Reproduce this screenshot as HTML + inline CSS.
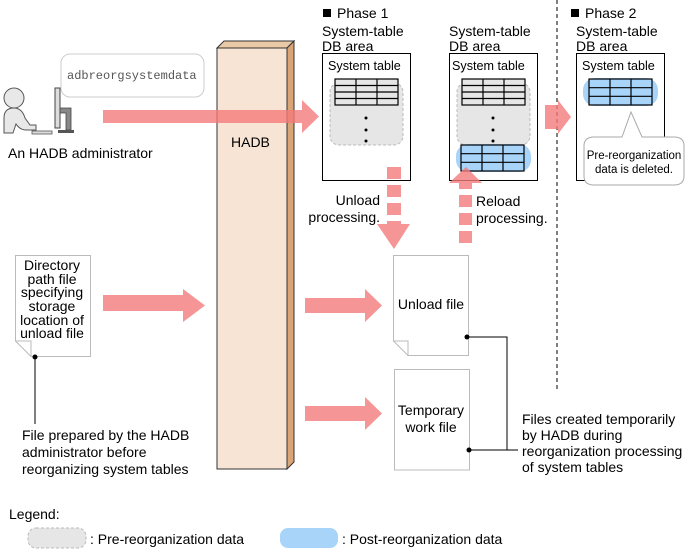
<!DOCTYPE html>
<html><head><meta charset="utf-8"><style>
html,body{margin:0;padding:0;background:#fff}
svg{display:block}
text{font-family:"Liberation Sans",sans-serif;font-size:14px;fill:#000}
</style></head><body>
<svg width="687" height="556" viewBox="0 0 687 556" xmlns="http://www.w3.org/2000/svg">
<defs>
<g id="g4">
<rect x="0" y="0" width="63" height="26" fill="#e6e6e6" stroke="#000" stroke-width="1.2"/>
<path d="M0 6.5H63M0 13H63M0 19.5H63M21 0V26M42 0V26" stroke="#000" stroke-width="1.2"/>
</g>
<g id="b3">
<rect x="0" y="0" width="63" height="26" fill="#a8d4fa" stroke="#000" stroke-width="1.2"/>
<path d="M0 8.7H63M0 17.3H63M21 0V26M42 0V26" stroke="#000" stroke-width="1.2"/>
</g>
</defs>

<circle cx="14" cy="98" r="10" fill="#e8e8e8" stroke="#555"/>
<path d="M4 133 V118 Q4 108 14 108 Q22 108 25 118 L30 125 H36 V130 H26 Q20 130 16 124 L13 133Z" fill="#e8e8e8" stroke="#555"/>
<rect x="32" y="131" width="20" height="3" fill="#ddd" stroke="#555" stroke-width="0.8"/>
<rect x="55" y="88" width="5" height="40" fill="#ddd" stroke="#444"/>
<path d="M60 108 H71 V130 H66 V113 H60Z" fill="#888" stroke="#444" stroke-width="0.8"/>
<rect x="58" y="130" width="16" height="3" fill="#555"/>

<rect x="61" y="54" width="143" height="43" rx="9" fill="#fff" stroke="#ccc"/>
<text x="67" y="79" style="font-family:'Liberation Mono',monospace;font-size:12px;fill:#555">adbreorgsystemdata</text>
<text x="8" y="158">An HADB administrator</text>

<path d="M217 48 L224 41 H294 L287 48Z" fill="#eac9a6" stroke="#333"/>
<path d="M287 48 L294 41 V462 L287 469Z" fill="#d9a577" stroke="#333"/>
<rect x="217" y="48" width="70" height="421" fill="#f7e4d4" stroke="#333"/>
<text x="231" y="147" style="font-size:14px">HADB</text>

<rect x="323" y="9" width="8" height="8" fill="#000"/>
<text x="337" y="18" style="font-size:14px">Phase 1</text>
<g style="font-size:12.3px">
<text x="322" y="36">System-table</text><text x="322" y="51">DB area</text>
<text x="449" y="36">System-table</text><text x="449" y="51">DB area</text>
<text x="576" y="36">System-table</text><text x="576" y="51">DB area</text>
</g>
<rect x="571" y="9" width="8" height="8" fill="#000"/>
<text x="585" y="18" style="font-size:14px">Phase 2</text>
<line x1="557" y1="0" x2="557" y2="392" stroke="#000" stroke-dasharray="4,3"/>

<rect x="322.5" y="53.5" width="88" height="127" fill="#fff" stroke="#000"/>
<text x="328" y="70" style="font-size:12.6px">System table</text>
<rect x="330" y="83" width="73" height="62" rx="9" fill="#e6e6e6" stroke="#bbb" stroke-dasharray="3,2"/>
<use href="#g4" x="335" y="79"/>
<circle cx="366" cy="118" r="1.5"/><circle cx="366" cy="130" r="1.5"/><circle cx="366" cy="141" r="1.5"/>

<rect x="449.5" y="53.5" width="88" height="127" fill="#fff" stroke="#000"/>
<text x="452" y="70" style="font-size:12.6px">System table</text>
<rect x="457" y="83" width="73" height="62" rx="9" fill="#e6e6e6" stroke="#bbb" stroke-dasharray="3,2"/>
<use href="#g4" x="462" y="79"/>
<circle cx="493" cy="118" r="1.5"/><circle cx="493" cy="130" r="1.5"/><circle cx="493" cy="141" r="1.5"/>
<rect x="456" y="144" width="75" height="28" rx="12" fill="#a8d4fa"/>
<use href="#b3" x="461" y="145"/>

<rect x="576.5" y="53.5" width="88" height="127" fill="#fff" stroke="#000"/>
<text x="582" y="70" style="font-size:12.6px">System table</text>
<rect x="583" y="78" width="75" height="28" rx="12" fill="#a8d4fa"/>
<use href="#b3" x="589" y="79"/>
<path d="M594 137 H622 L631 112 L642 137 H674 Q684 137 684 146 V176 Q684 185 674 185 H594 Q584 185 584 176 V146 Q584 137 594 137Z" fill="#fff" stroke="#aaa"/>
<text x="634" y="159" text-anchor="middle" style="font-size:11.5px">Pre-reorganization</text>
<text x="634" y="173" text-anchor="middle" style="font-size:11.5px">data is deleted.</text>

<g fill="#f47a7a" fill-opacity="0.8">
<path d="M103 110 H302 V100 L319 116.5 L302 133 V123 H103Z"/>
<path d="M103 295 H183 V289 L205 305.5 L183 322 V311 H103Z"/>
<path d="M305 298 H365 V289 L382 305.5 L365 322 V313 H305Z"/>
<path d="M305 406 H365 V397 L382 413.5 L365 430 V421 H305Z"/>
<path d="M545 105 H558 V100 L571 117 L558 134 V129 H545Z"/>
<rect x="387" y="167" width="14" height="12"/>
<rect x="387" y="185" width="14" height="12"/>
<rect x="387" y="203" width="14" height="12"/>
<path d="M387 221 H401 V224 H410 L394 249 L377 224 H387Z"/>
<path d="M466 167 L482 183 H472 V189 H459 V183 H449Z"/>
<rect x="459" y="195" width="13" height="12"/>
<rect x="459" y="213" width="13" height="12"/>
<rect x="459" y="231" width="13" height="12"/>
</g>
<text x="380" y="205" text-anchor="end">Unload</text>
<text x="380" y="222" text-anchor="end">processing.</text>
<text x="476" y="206">Reload</text>
<text x="476" y="223">processing.</text>

<path d="M15.5 255.5 H90.5 V356.5 H31 L15.5 341Z" fill="#fff" stroke="#bbb"/>
<path d="M15.5 341 H31 V356.5" fill="none" stroke="#bbb"/>
<g style="font-size:12.4px" text-anchor="middle">
<text x="52" y="270">Directory</text><text x="52" y="284">path file</text>
<text x="52" y="297">specifying</text><text x="52" y="311">storage</text>
<text x="52" y="325">location of</text><text x="52" y="338">unload file</text>
</g>
<circle cx="35" cy="357" r="2.5"/>
<line x1="35" y1="357" x2="35" y2="424" stroke="#000"/>
<text x="22" y="440">File prepared by the HADB</text>
<text x="22" y="457">administrator before</text>
<text x="22" y="474">reorganizing system tables</text>

<path d="M393.5 255.5 H468.5 V355.5 H408 L393.5 341Z" fill="#fff" stroke="#bbb"/>
<path d="M393.5 341 H408 V355.5" fill="none" stroke="#bbb"/>
<text x="431" y="309" text-anchor="middle">Unload file</text>
<path d="M394.5 369.5 H469.5 V470 H394.5Z" fill="#fff" stroke="#bbb"/>
<text x="431" y="415" text-anchor="middle">Temporary</text>
<text x="431" y="432" text-anchor="middle">work file</text>

<circle cx="467" cy="337" r="2.5"/><circle cx="469" cy="450" r="2.5"/>
<path d="M467 337 H507 V450 M469 450 H518" fill="none" stroke="#000"/>
<g style="font-size:13.3px">
<text x="522" y="424">Files created temporarily</text>
<text x="522" y="440">by HADB during</text>
<text x="522" y="456">reorganization processing</text>
<text x="522" y="472">of system tables</text>
</g>

<text x="9" y="519">Legend:</text>
<rect x="28" y="528" width="58" height="20" rx="8" fill="#e6e6e6" stroke="#bbb" stroke-dasharray="3,2"/>
<text x="90" y="544">: Pre-reorganization data</text>
<rect x="280" y="528" width="58" height="20" rx="8" fill="#a8d4fa"/>
<text x="342" y="544">: Post-reorganization data</text>
</svg>
</body></html>
